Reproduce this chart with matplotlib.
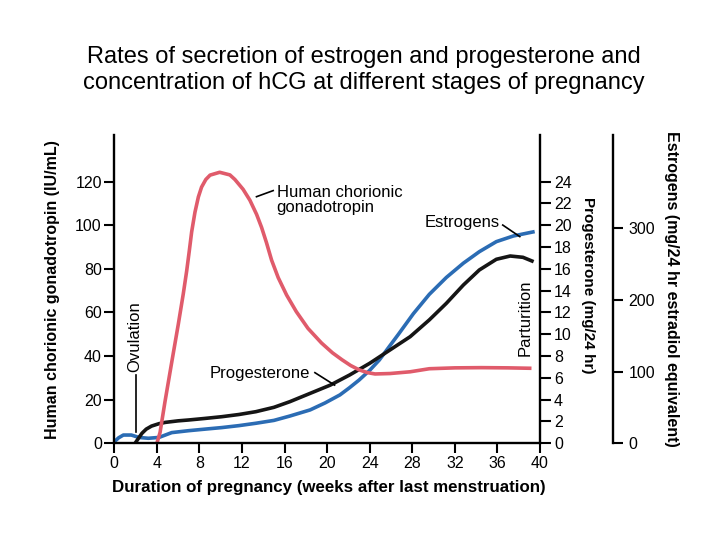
import numpy as np
import matplotlib
matplotlib.use('Agg')
import matplotlib.pyplot as plt

plt.rcParams['font.family'] = ['Liberation Sans', 'DejaVu Sans']

# ====== data ======
# hCG, IU/mL
hcg_weeks = [4.0, 4.3, 4.76, 5.39, 6.01, 6.48, 6.8, 7.04, 7.27, 7.58, 7.9, 8.2, 8.6, 9.0,
             9.9, 10.86, 11.33, 12.1, 12.74, 13.37, 13.84, 14.3, 14.78, 15.4, 16.19,
             17.1, 18.2, 19.47, 20.5, 21.4, 22.2, 23.0, 23.8, 24.5, 25.9, 27.8, 29.6,
             32.0, 34.5, 37.0, 39.2]
hcg = [0, 5, 19, 37, 54.5, 68.5, 79, 88, 97, 106, 113, 117.5, 121, 123,
       124.3, 123.1, 121, 116.5, 111.5, 105, 99, 92, 84, 76, 68,
       60.4, 52.7, 46, 41.5, 38.3, 35.7, 33.7, 32.4, 31.8, 32.0, 32.8, 34.2,
       34.6, 34.7, 34.6, 34.4]

# progesterone, mg/24 hr
prog_weeks = [1.95, 2.3, 2.6, 3.0, 3.5, 4.2, 4.8, 6.0, 7.0, 8.5, 10.1, 11.7, 13.3, 15.0,
              16.5, 18.4, 20.3, 22.1, 24.0, 25.9, 27.8, 29.6, 31.2, 32.8, 34.3, 35.9,
              37.2, 38.4, 39.4]
prog = [0, 0.5, 0.92, 1.3, 1.58, 1.8, 1.92, 2.06, 2.14, 2.28, 2.44, 2.64, 2.9, 3.3,
        3.82, 4.58, 5.34, 6.26, 7.34, 8.56, 9.78, 11.32, 12.84, 14.52, 15.9, 16.88,
        17.18, 17.06, 16.66]

# estrogens, mg/24 hr estradiol equivalent
estr_weeks = [0.0, 0.4, 0.85, 1.6, 2.3, 3.2, 4.2, 5.4, 7.0, 8.5, 10.1, 11.7, 13.3, 15.0,
              16.5, 18.4, 19.8, 21.2, 22.1, 23.0, 24.0, 24.9, 25.8, 26.7, 28.1, 29.6,
              31.2, 32.8, 34.3, 35.9, 37.5, 39.5]
estr = [2.1, 7.6, 11.5, 11.5, 8.2, 7.0, 8.2, 14.9, 17.6, 19.7, 21.9, 24.6, 27.9, 31.9,
        38.0, 46.5, 56.2, 67.4, 77.4, 88.1, 101.7, 116.0, 134.0, 151.9, 180.5, 207.5,
        231.0, 250.9, 266.9, 280.9, 288.8, 294.9]

x_ticks = list(range(0, 41, 4))
hcg_ticks = [0, 20, 40, 60, 80, 100, 120]
prog_ticks = list(range(0, 25, 2))
estr_ticks = [0, 100, 200, 300]

red = '#e05b6b'
blue = '#2b6cb4'
black = '#151515'

fig = plt.figure(figsize=(7.28, 5.46), dpi=100)
ax = fig.add_axes([114.3 / 728, 1 - 443.3 / 546, 425.7 / 728, 308.3 / 546])
ax2 = ax.twinx()
ax3 = ax.twinx()

ax.set_xlim(0, 40)
ax.set_ylim(0, 141.4)
ax2.set_ylim(0, 141.4 / 5)
ax3.set_ylim(0, 141.4 * 3.037)

lw = 2.6
ax3.plot(estr_weeks, estr, color=blue, lw=lw, solid_capstyle='butt', solid_joinstyle='round')
ax2.plot(prog_weeks, prog, color=black, lw=lw, solid_capstyle='butt', solid_joinstyle='round')
ax3.set_zorder(1)
ax2.set_zorder(2)
ax.set_zorder(3)
ax.patch.set_visible(False)
ax.plot(hcg_weeks, hcg, color=red, lw=lw, solid_capstyle='butt', solid_joinstyle='round')

sw = 1.7
for a in (ax, ax2, ax3):
    for s in a.spines.values():
        s.set_visible(False)
        s.set_linewidth(sw)
ax.spines['left'].set_visible(True)
ax.spines['bottom'].set_visible(True)
ax2.spines['right'].set_visible(True)
ax3.spines['right'].set_visible(True)
ax3.spines['right'].set_position(('outward', 73 * 72 / 100))

fs = 11.5
ax.set_xticks(x_ticks)
ax.set_yticks(hcg_ticks)
ax.tick_params(axis='both', length=7, width=1.5, labelsize=fs, pad=2)
ax2.set_yticks(prog_ticks)
ax2.tick_params(axis='y', length=8, width=1.5, labelsize=fs, pad=2)
ax3.set_yticks(estr_ticks)
ax3.tick_params(axis='y', length=7, width=1.5, labelsize=fs, pad=4)

ax.set_xlabel('Duration of pregnancy (weeks after last menstruation)', fontsize=12.2, fontweight='bold')
ax.xaxis.set_label_coords(0.504, -0.119)
ax.set_ylabel('Human chorionic gonadotropin (IU/mL)', fontsize=11.5, fontweight='bold')
ax.yaxis.set_label_coords(-0.128, 0.5)
ax2.set_ylabel('Progesterone (mg/24 hr)', fontsize=11, fontweight='bold', rotation=-90, va='center')
ax2.yaxis.set_label_coords(1.113, 0.512)
ax3.set_ylabel('Estrogens (mg/24 hr estradiol equivalent)', fontsize=11.5, fontweight='bold',
               rotation=-90, va='center')
ax3.yaxis.set_label_coords(1.309, 0.5)

# annotations
ax.text(15.25, 111.5, 'Human chorionic\ngonadotropin', fontsize=12, ha='left', va='center',
        linespacing=1.05)
ax.plot([13.36, 14.93], [113.1, 115.9], color='black', lw=1.2)
ax.text(36.2, 101.2, 'Estrogens', fontsize=12, ha='right', va='center')
ax.plot([36.5, 38.1], [100.1, 94.8], color='black', lw=1.2)
ax.text(9.0, 32.1, 'Progesterone', fontsize=12, ha='left', va='center')
ax.plot([18.85, 20.7], [32.4, 26.7], color='black', lw=1.2)
ax.text(1.94, 48.8, 'Ovulation', fontsize=12, rotation=90, ha='center', va='center')
ax.plot([2.0, 2.0], [5.3, 31.2], color='black', lw=1.2)
ax.text(38.57, 57.7, 'Parturition', fontsize=12, rotation=90, ha='center', va='center')

fig.text(0.5, 1 - 57 / 546, 'Rates of secretion of estrogen and progesterone and',
         fontsize=17, ha='center', va='center')
fig.text(0.5, 1 - 83 / 546, 'concentration of hCG at different stages of pregnancy',
         fontsize=17, ha='center', va='center')

fig.savefig('out.png', dpi=100)
